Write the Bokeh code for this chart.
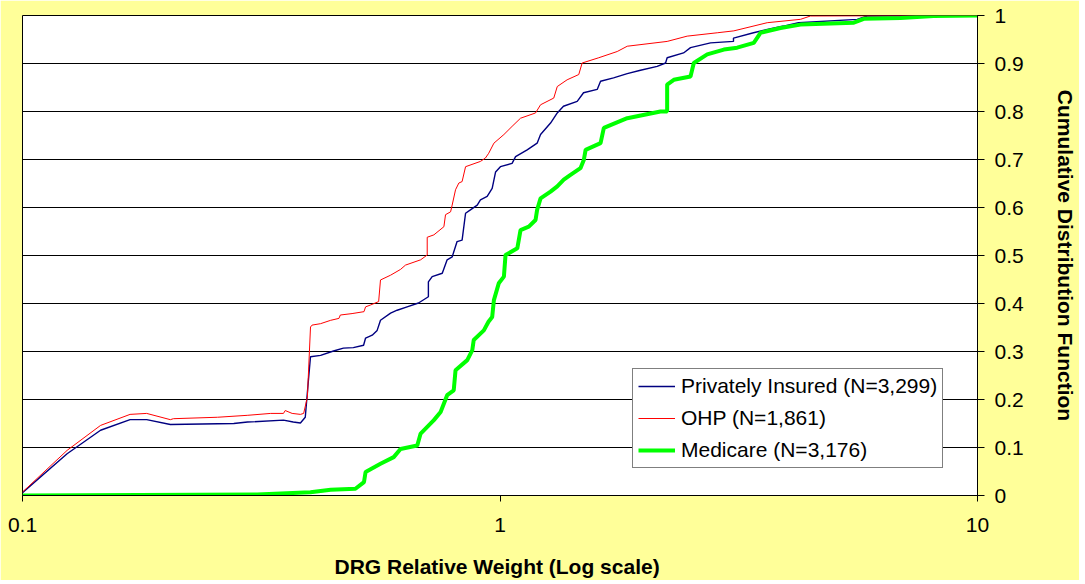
from bokeh.plotting import figure
from bokeh.models import FixedTicker, CustomJSTickFormatter, Legend, LegendItem
from bokeh.embed import file_html
from bokeh.resources import INLINE

x_ticks = [0.1, 1, 10]
y_ticks = [0.0, 0.1, 0.2, 0.3, 0.4, 0.5, 0.6, 0.7, 0.8, 0.9, 1.0]

series_names = ["Privately Insured (N=3,299)", "OHP (N=1,861)", "Medicare (N=3,176)"]

priv_x = [0.100, 0.124, 0.1457, 0.168, 0.182, 0.204, 0.277, 0.296, 0.352, 0.369, 0.382, 0.391,
          0.397, 0.401, 0.421, 0.448, 0.470, 0.493, 0.518, 0.523, 0.540, 0.553, 0.562, 0.590,
          0.609, 0.639, 0.675, 0.708, 0.708, 0.721, 0.757, 0.775, 0.794, 0.813, 0.833, 0.847,
          0.867, 0.896, 0.910, 0.940, 0.963, 0.979, 1.002, 1.060, 1.078, 1.140, 1.196, 1.216,
          1.276, 1.318, 1.358, 1.451, 1.496, 1.598, 1.624, 1.729, 1.847, 1.969, 2.134, 2.222,
          2.239, 2.423, 2.506, 2.760, 3.083, 3.083, 3.396, 3.628, 3.925, 4.218, 5.598, 5.875, 10.0]
priv_y = [0.006, 0.087, 0.136, 0.158, 0.158, 0.148, 0.150, 0.153, 0.157, 0.153, 0.151, 0.163,
          0.240, 0.289, 0.292, 0.301, 0.307, 0.308, 0.313, 0.328, 0.334, 0.344, 0.365, 0.380,
          0.386, 0.393, 0.401, 0.414, 0.445, 0.456, 0.463, 0.491, 0.497, 0.529, 0.532, 0.588,
          0.595, 0.605, 0.616, 0.623, 0.640, 0.674, 0.685, 0.692, 0.706, 0.720, 0.734, 0.752,
          0.776, 0.797, 0.811, 0.821, 0.839, 0.846, 0.863, 0.870, 0.879, 0.886, 0.894, 0.901,
          0.912, 0.922, 0.933, 0.943, 0.946, 0.953, 0.964, 0.971, 0.978, 0.985, 0.992, 0.999, 1.0]

ohp_x = [0.100, 0.124, 0.1457, 0.168, 0.182, 0.204, 0.207, 0.256, 0.2955, 0.331, 0.352, 0.355,
         0.367, 0.382, 0.388, 0.395, 0.401, 0.404, 0.421, 0.442, 0.460, 0.463, 0.490, 0.519,
         0.523, 0.536, 0.557, 0.562, 0.590, 0.619, 0.634, 0.682, 0.704, 0.704, 0.727, 0.763,
         0.769, 0.788, 0.794, 0.807, 0.820, 0.833, 0.847, 0.910, 0.932, 0.947, 0.971, 1.019,
         1.060, 1.104, 1.187, 1.216, 1.296, 1.318, 1.382, 1.462, 1.486, 1.610, 1.760, 1.847,
         2.239, 2.466, 2.851, 3.088, 3.628, 4.259, 4.470, 10.0]
ohp_y = [0.007, 0.094, 0.146, 0.169, 0.171, 0.158, 0.160, 0.163, 0.167, 0.171, 0.171, 0.177,
         0.171, 0.169, 0.171, 0.205, 0.351, 0.355, 0.358, 0.365, 0.369, 0.376, 0.379, 0.383,
         0.393, 0.397, 0.404, 0.449, 0.459, 0.471, 0.480, 0.491, 0.501, 0.538, 0.543, 0.560,
         0.585, 0.591, 0.605, 0.637, 0.651, 0.654, 0.685, 0.696, 0.703, 0.713, 0.734, 0.752,
         0.769, 0.786, 0.797, 0.814, 0.828, 0.852, 0.866, 0.877, 0.901, 0.912, 0.925, 0.936,
         0.946, 0.957, 0.964, 0.968, 0.985, 0.992, 0.999, 1.0]

med_x = [0.100, 0.310, 0.401, 0.442, 0.498, 0.519, 0.523, 0.562, 0.599, 0.619, 0.671, 0.682,
         0.727, 0.751, 0.775, 0.800, 0.807, 0.854, 0.875, 0.881, 0.925, 0.946, 0.963, 0.971,
         0.994, 1.019, 1.027, 1.087, 1.104, 1.149, 1.187, 1.196, 1.216, 1.276, 1.318, 1.360,
         1.405, 1.474, 1.498, 1.511, 1.624, 1.650, 1.847, 2.168, 2.239, 2.239, 2.312, 2.506,
         2.546, 2.716, 2.943, 3.138, 3.400, 3.512, 3.868, 4.259, 5.508, 5.780, 6.901, 8.089, 10.0]
med_y = [0.000, 0.002, 0.007, 0.012, 0.014, 0.028, 0.049, 0.066, 0.080, 0.097, 0.104, 0.129,
         0.157, 0.174, 0.209, 0.219, 0.261, 0.282, 0.303, 0.324, 0.344, 0.362, 0.372, 0.407,
         0.442, 0.456, 0.501, 0.515, 0.553, 0.560, 0.574, 0.595, 0.619, 0.633, 0.644, 0.658,
         0.668, 0.682, 0.699, 0.720, 0.734, 0.766, 0.786, 0.800, 0.800, 0.856, 0.866, 0.873,
         0.901, 0.919, 0.929, 0.933, 0.943, 0.964, 0.974, 0.981, 0.985, 0.993, 0.995, 0.999, 1.0]

FONT = "Liberation Sans"

p = figure(frame_width=955, frame_height=480, x_axis_type="log",
           x_range=(0.1, 10), y_range=(0, 1), y_axis_location="right",
           output_backend="svg", toolbar_location=None,
           background_fill_color="white", border_fill_color="#FFFF99",
           min_border_left=22, min_border_top=15, min_border_right=5, min_border_bottom=5)
p.outline_line_color = "black"
p.outline_line_width = 1

r1 = p.line(priv_x, priv_y, line_color="#000080", line_width=1.4)
r2 = p.line(ohp_x, ohp_y, line_color="#FF0000", line_width=1)
r3 = p.line(med_x, med_y, line_color="#00FF00", line_width=4)

# grid
p.xgrid.visible = False
p.ygrid.ticker = FixedTicker(ticks=y_ticks)
p.ygrid.grid_line_color = "black"
p.ygrid.grid_line_width = 1

# x axis
xa = p.xaxis[0]
xa.ticker = FixedTicker(ticks=x_ticks, minor_ticks=[])
xa.formatter = CustomJSTickFormatter(code="return String(tick);")
xa.axis_line_color = "black"
xa.major_tick_line_color = "black"
xa.major_tick_out = 6
xa.major_tick_in = 0
xa.minor_tick_out = 0
xa.minor_tick_in = 0
xa.major_label_standoff = 16
xa.major_label_text_font = FONT
xa.major_label_text_font_size = "21px"
xa.major_label_text_color = "black"
xa.axis_label = "DRG Relative Weight  (Log scale)"
xa.axis_label_text_font = FONT
xa.axis_label_text_font_style = "bold"
xa.axis_label_text_font_size = "21px"
xa.axis_label_text_color = "black"
xa.axis_label_standoff = 20

# y axis (right)
ya = p.yaxis[0]
ya.ticker = FixedTicker(ticks=y_ticks, minor_ticks=[])
ya.formatter = CustomJSTickFormatter(code="return String(Math.round(tick*10)/10);")
ya.axis_line_color = "black"
ya.major_tick_line_color = "black"
ya.major_tick_out = 7
ya.major_tick_in = 0
ya.minor_tick_out = 0
ya.minor_tick_in = 0
ya.major_label_standoff = 10
ya.major_label_text_font = FONT
ya.major_label_text_font_size = "21px"
ya.major_label_text_color = "black"
ya.axis_label = "Cumulative Distribution Function"
ya.axis_label_text_font = FONT
ya.axis_label_text_font_style = "bold"
ya.axis_label_text_font_size = "21px"
ya.axis_label_text_color = "black"
ya.axis_label_standoff = 27

legend = Legend(items=[LegendItem(label=series_names[0], renderers=[r1]),
                       LegendItem(label=series_names[1], renderers=[r2]),
                       LegendItem(label=series_names[2], renderers=[r3])],
                location=(610, 27))
legend.label_text_font = FONT
legend.label_text_font_size = "21px"
legend.label_text_color = "black"
legend.border_line_color = "black"
legend.border_line_width = 1
legend.background_fill_color = "white"
legend.background_fill_alpha = 1
legend.glyph_width = 37
legend.glyph_height = 20
legend.label_height = 20
legend.label_standoff = 6
legend.spacing = 8
legend.padding = 5
legend.margin = 0
p.add_layout(legend)

open("out.html", "w").write(file_html(p, INLINE))
